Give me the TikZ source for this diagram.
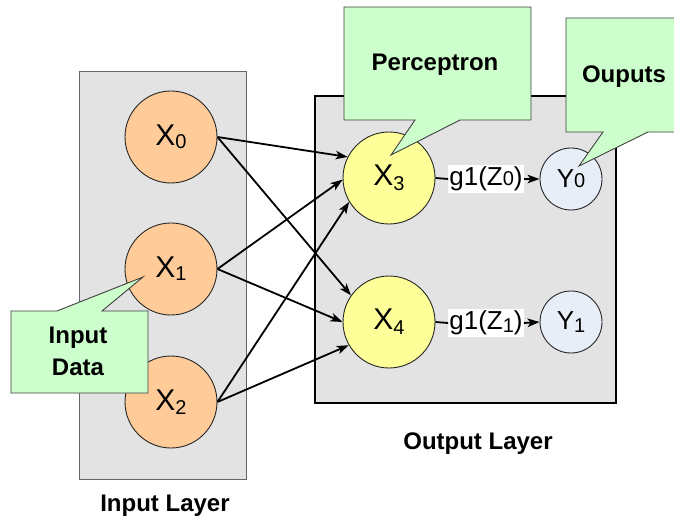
\documentclass[tikz,border=0pt]{standalone}
\usepackage{fontspec}
\setmainfont{Liberation Sans}
\usetikzlibrary{arrows.meta}

\definecolor{layerfill}{HTML}{E3E3E3}
\definecolor{inpeach}{HTML}{FFCC99}
\definecolor{outyellow}{HTML}{FFFF99}
\definecolor{ybluish}{HTML}{E8EEF8}
\definecolor{notegreen}{HTML}{CCFFCC}
\definecolor{noteline}{HTML}{404040}

% lowered, smaller index
\newcommand\lowsub[2][-4pt]{\raisebox{#1}{\fontsize{20}{20}\selectfont #2}}

\begin{document}
\begin{tikzpicture}[x=1pt,y=-1pt,
  layer/.style={fill=layerfill},
  neuron/.style={circle,draw=black!85,line width=0.9pt,inner sep=0pt,
    minimum size=92pt,font=\fontsize{30}{30}\selectfont},
  innode/.style={neuron,fill=inpeach},
  outnode/.style={neuron,fill=outyellow},
  ynode/.style={circle,draw=black!85,line width=0.9pt,inner sep=0pt,
    minimum size=62pt,fill=ybluish,font=\fontsize{26}{26}\selectfont},
  conn/.style={line width=1.8pt,-{Stealth[length=12pt,width=8.5pt,inset=3pt]}},
  actlabel/.style={fill=white,inner xsep=1pt,inner ysep=2pt,
    font=\fontsize{26}{26}\selectfont},
  heading/.style={font=\bfseries\fontsize{24}{28}\selectfont,anchor=base},
  note/.style={fill=notegreen,draw=noteline,line width=0.9pt,line join=miter}
]
\useasboundingbox (0,0) rectangle (674,518);

% layer panels
\draw[layer,draw=black!60,line width=1pt] (79,72) rectangle (246,479);
\draw[layer,draw=black,line width=1.8pt] (315,96) rectangle (616,403);

% neurons
\node[innode] (x0) at (171,137) {X\lowsub[-3pt]{0}};
\node[innode] (x1) at (171,269) {X\lowsub[-3pt]{1}};
\node[innode] (x2) at (171,402) {X\lowsub{2}};
\node[outnode] (x3) at (389,178) {X\lowsub[-5pt]{3}};
\node[outnode] (x4) at (389,322) {X\lowsub[-5pt]{4}};
\node[ynode] (y0) at (571,179) {Y\lowsub[0pt]{0}};
\node[ynode] (y1) at (571,322) {Y\lowsub[-3pt]{1}};

% weighted connections
\draw[conn] (x0.east) -- (x3.153);
\draw[conn] (x0.east) -- (x4.145);
\draw[conn] (x1.east) -- (x3.182);
\draw[conn] (x1.east) -- (x4.180);
\draw[conn] (x2.east) -- (x3.211);
\draw[conn] (x2.east) -- (x4.210);

% activations
\node[actlabel] (g0) at (486,179) {g1(Z\lowsub[0pt]{0})};
\node[actlabel] (g1) at (486,323) {g1(Z\lowsub[-3pt]{1})};
\draw[line width=1.8pt] (x3.east) -- (g0.west);
\draw[conn] (g0.east) -- (y0.west);
\draw[line width=1.8pt] (x4.east) -- (g1.west);
\draw[conn] (g1.east) -- (y1.west);

% layer captions
\node[heading] (inlayer) at (165,511) {Input Layer};
\node[heading] (outlayer) at (478,449) {Output Layer};

% callouts
\draw[note] (344,7) -- (531,7) -- (531,120) -- (460,120) -- (391,155)
  -- (415,120) -- (344,120) -- cycle;
\node[heading] (perc) at (435,71) {Perceptron};

\draw[note] (566,18) -- (680,18) -- (680,132) -- (648,132) -- (579,166)
  -- (603,132) -- (566,132) -- cycle;
\node[heading] (outs) at (624,83) {Ouputs};

\draw[note] (11,311) -- (57,311) -- (143,277) -- (102,311) -- (148,311)
  -- (148,393) -- (11,393) -- cycle;
\node[heading] (indata1) at (78,343) {Input};
\node[heading] (indata2) at (78,375) {Data};
\end{tikzpicture}
\end{document}
